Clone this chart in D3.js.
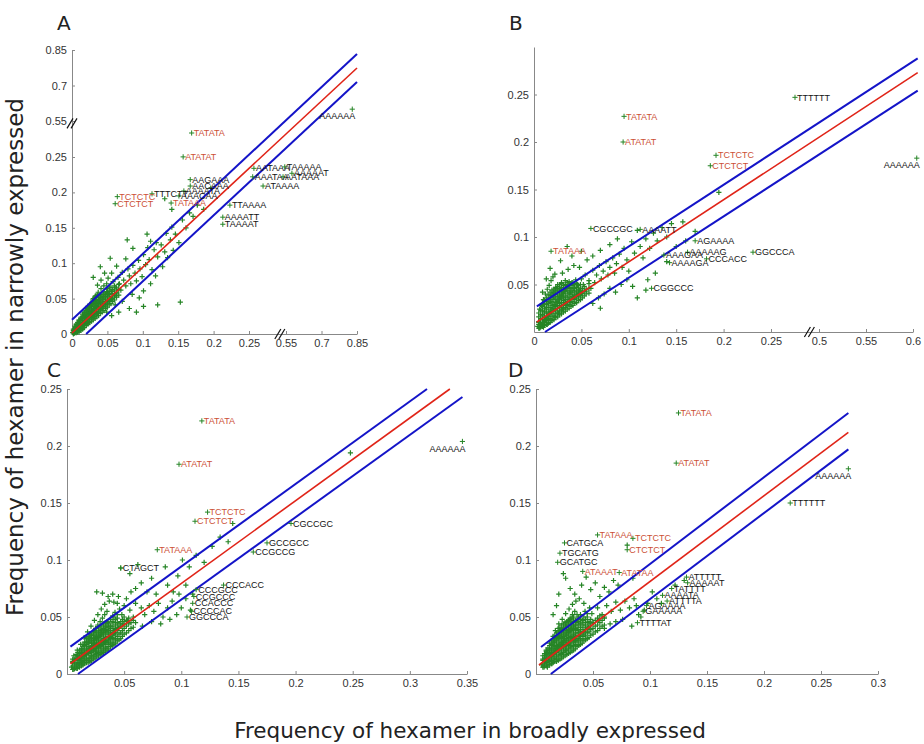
<!DOCTYPE html>
<html><head><meta charset="utf-8">
<script src="https://cdn.jsdelivr.net/npm/d3@7"></script>
<style>body{margin:0;background:#fff}svg{display:block}</style>
</head><body><svg id="c" width="924" height="744"></svg>
<script>
// ---------------- DATA ----------------
// Panel A
const ticksAx = [0,0.05,0.1,0.15,0.2,0.25,0.55,0.7,0.85];
const ticksAy = [0,0.05,0.1,0.15,0.2,0.25,0.55,0.7,0.85];
// dense core, one entry per x column: [x, [y values]]
const coreA = [[0.002,[0.000,0.004,0.007]],[0.006,[0.002,0.005,0.010,0.014]],[0.010,[0.003,0.008,0.012,0.017,0.020]],[0.015,[0.007,0.012,0.016,0.021,0.024,0.028]],[0.020,[0.012,0.015,0.020,0.025,0.028,0.033,0.036]],[0.025,[0.016,0.021,0.024,0.029,0.032,0.037,0.041]],[0.030,[0.020,0.025,0.028,0.033,0.036,0.041,0.045,0.050]],[0.035,[0.024,0.029,0.032,0.037,0.040,0.045,0.049,0.054]],[0.040,[0.029,0.034,0.037,0.042,0.045,0.051,0.056]],[0.045,[0.033,0.039,0.043,0.049,0.053,0.058]],[0.050,[0.038,0.044,0.048,0.054,0.058,0.064]],[0.055,[0.043,0.049,0.053,0.060,0.066]],[0.060,[0.048,0.055,0.061,0.068]],[0.066,[0.055,0.063,0.070]],
[0.004,[0.002,0.006,0.011]],[0.008,[0.003,0.007,0.012,0.016]],[0.0125,[0.005,0.010,0.014,0.019,0.022]],[0.0175,[0.009,0.014,0.018,0.023,0.026,0.031]],[0.0225,[0.014,0.018,0.022,0.027,0.030,0.035,0.039]],[0.0275,[0.018,0.023,0.026,0.031,0.034,0.039,0.043]],[0.0325,[0.022,0.027,0.030,0.035,0.038,0.043,0.047,0.052]],[0.0375,[0.026,0.031,0.035,0.039,0.043,0.047,0.052]],[0.0425,[0.031,0.036,0.040,0.045,0.048,0.054]],[0.0475,[0.036,0.041,0.046,0.051,0.056]],[0.0525,[0.041,0.046,0.051,0.056,0.061]],[0.0575,[0.046,0.051,0.057,0.063]],[0.063,[0.052,0.058,0.065]]];
const cloudA = [[0.001,0.002],[0.003,0.001],[0.002,0.005],[0.005,0.003],[0.004,0.008],[0.007,0.005],[0.006,0.010],[0.009,0.007],[0.008,0.013],[0.011,0.009],[0.010,0.016],[0.013,0.011],[0.012,0.019],[0.015,0.014],[0.014,0.022],[0.017,0.016],[0.016,0.025],[0.019,0.019],[0.018,0.028],[0.021,0.022],[0.020,0.031],[0.023,0.025],[0.022,0.034],[0.025,0.027],[0.024,0.037],[0.027,0.030],[0.026,0.040],[0.029,0.033],[0.028,0.043],[0.031,0.036],[0.030,0.046],[0.033,0.039],[0.032,0.049],[0.035,0.042],[0.034,0.052],[0.037,0.045],[0.036,0.055],[0.039,0.048],[0.041,0.052],[0.043,0.049],[0.045,0.056],[0.047,0.053],[0.049,0.060],[0.051,0.057],
[0.008,0.003],[0.012,0.006],[0.016,0.009],[0.020,0.013],[0.024,0.017],[0.028,0.021],[0.032,0.025],[0.036,0.029],[0.040,0.034],[0.044,0.038],[0.048,0.042],[0.053,0.047],[0.057,0.050],[0.061,0.054],
[0.006,0.013],[0.010,0.019],[0.013,0.024],[0.017,0.030],[0.021,0.036],[0.025,0.042],[0.029,0.048],[0.033,0.054],[0.037,0.059],[0.041,0.064],[0.045,0.068],[0.049,0.071],
[0.053,0.066],[0.056,0.060],[0.058,0.074],[0.061,0.066],[0.063,0.058],[0.065,0.080],[0.067,0.071],[0.069,0.062],[0.071,0.087],[0.073,0.076],[0.076,0.068],[0.079,0.092],[0.081,0.082],[0.083,0.071],[0.086,0.097],[0.089,0.086],[0.091,0.075],[0.094,0.104],[0.096,0.092],[0.099,0.081],[0.101,0.112],[0.104,0.098],[0.107,0.122],[0.109,0.105],[0.113,0.091],[0.116,0.119],[0.119,0.129],[0.121,0.109],[0.126,0.126],[0.131,0.116],[0.133,0.142],[0.139,0.133],[0.141,0.151],[0.146,0.141],[0.151,0.129],[0.156,0.161],[0.161,0.150],[0.166,0.171],[0.171,0.166],[0.177,0.182],[0.186,0.176],[0.196,0.206],[0.141,0.176],[0.131,0.191],[0.106,0.141],[0.111,0.131],[0.086,0.121],[0.076,0.106],[0.063,0.096],[0.056,0.086],[0.051,0.079],[0.041,0.076],[0.036,0.069],[0.040,0.095],[0.030,0.080],[0.046,0.086],[0.078,0.133],[0.054,0.107],
[0.153,0.045],[0.121,0.041],[0.101,0.039],[0.091,0.031],[0.081,0.036],[0.071,0.046],[0.066,0.031],[0.061,0.041],[0.056,0.026],[0.049,0.031],[0.101,0.061],[0.111,0.071],[0.095,0.051],[0.085,0.056],[0.118,0.082],[0.128,0.095],[0.135,0.108],[0.143,0.118]];
const hiA = [["TATATA",0.169,0.45],["ATATAT",0.157,0.251],["TCTCTC",0.064,0.194],["CTCTCT",0.061,0.184],["TATAAA",0.140,0.185]];
const loA = [["AAAAAA",0.83,0.6],["TTTCTT",0.113,0.198],["AAGAAA",0.167,0.218],["AACAAA",0.167,0.209],["AAAATA",0.158,0.202],["AAACAA",0.151,0.195],["TTAAAA",0.223,0.182],["AAAATT",0.213,0.165],["TAAAAT",0.213,0.155],["AATAAA",0.29,0.234],["TAAAAA",0.54,0.236],["AAAAAT",0.575,0.227],["AAATAA",0.28,0.222],["AATAAA",0.526,0.222],["ATAAAA",0.364,0.209]];
const fitA = [[0,0.0014],[0.85,0.774]];
const upA = [[0,0.02],[0.85,0.833]];
const dnA = [[0.02,0],[0.85,0.715]];

// Panel B
const ticksBx = [0,0.05,0.1,0.15,0.2,0.25,0.5,0.55,0.6];
const ticksBy = [0.05,0.1,0.15,0.2,0.25];
const coreB = [[0.005,[0.004,0.008,0.011,0.016,0.020]],[0.009,[0.006,0.010,0.013,0.018,0.022,0.027,0.030]],[0.013,[0.008,0.012,0.015,0.020,0.024,0.029,0.032,0.036]],[0.017,[0.010,0.014,0.019,0.022,0.026,0.031,0.034,0.038,0.042]],[0.021,[0.013,0.017,0.022,0.025,0.029,0.034,0.037,0.041,0.045]],[0.025,[0.016,0.020,0.025,0.028,0.032,0.037,0.040,0.044,0.048]],[0.029,[0.019,0.023,0.028,0.031,0.035,0.040,0.043,0.047,0.051]],[0.033,[0.022,0.026,0.031,0.034,0.038,0.043,0.046,0.050]],[0.037,[0.025,0.029,0.034,0.037,0.041,0.046,0.049,0.053]],[0.041,[0.028,0.032,0.037,0.040,0.044,0.049,0.052]],[0.045,[0.031,0.035,0.040,0.043,0.047,0.051]],[0.049,[0.034,0.038,0.043,0.046,0.050]],[0.053,[0.038,0.043,0.048]],[0.058,[0.041,0.046,0.051]],
[0.007,[0.005,0.009,0.014,0.018,0.023]],[0.011,[0.007,0.011,0.016,0.020,0.025,0.029,0.033]],[0.015,[0.009,0.013,0.017,0.021,0.026,0.030,0.034,0.039]],[0.019,[0.012,0.016,0.020,0.024,0.028,0.032,0.036,0.040,0.044]],[0.023,[0.015,0.019,0.023,0.027,0.031,0.035,0.039,0.043,0.047]],[0.027,[0.018,0.022,0.026,0.030,0.034,0.038,0.042,0.046,0.050]],[0.031,[0.021,0.025,0.029,0.033,0.037,0.041,0.045,0.049]],[0.035,[0.024,0.028,0.032,0.036,0.040,0.044,0.048,0.052]],[0.039,[0.027,0.031,0.035,0.039,0.043,0.047,0.051]],[0.043,[0.030,0.034,0.038,0.042,0.046,0.050]],[0.047,[0.033,0.037,0.041,0.045,0.049]],[0.051,[0.036,0.041,0.046]],[0.055,[0.040,0.045]]];
const cloudB = [[0.004,0.006],[0.006,0.004],[0.005,0.010],[0.008,0.007],[0.007,0.014],[0.010,0.010],[0.009,0.018],[0.012,0.013],[0.011,0.022],[0.014,0.016],[0.013,0.026],[0.016,0.019],[0.015,0.030],[0.018,0.022],[0.017,0.034],[0.020,0.025],[0.019,0.038],[0.022,0.028],[0.021,0.042],[0.024,0.031],[0.023,0.046],[0.026,0.034],[0.025,0.050],[0.028,0.037],[0.027,0.045],[0.030,0.040],[0.029,0.052],[0.032,0.043],[0.031,0.036],[0.034,0.046],[0.033,0.054],[0.036,0.049],[0.038,0.042],[0.040,0.052],[0.042,0.046],[0.044,0.055],[0.046,0.050],[0.048,0.044],[0.050,0.056],[0.052,0.050],
[0.006,0.024],[0.008,0.028],[0.010,0.034],[0.012,0.040],[0.014,0.045],[0.016,0.049],[0.018,0.054],[0.020,0.058],[0.022,0.061],[0.017,0.067],[0.013,0.056],[0.009,0.042],
[0.010,0.005],[0.014,0.008],[0.018,0.012],[0.022,0.016],[0.026,0.020],[0.030,0.024],[0.034,0.028],[0.038,0.032],[0.042,0.036],[0.046,0.039],[0.050,0.041],[0.055,0.043],[0.060,0.046],
[0.054,0.060],[0.058,0.054],[0.062,0.065],[0.064,0.052],[0.066,0.060],[0.069,0.070],[0.071,0.056],[0.073,0.064],[0.076,0.074],[0.078,0.060],[0.080,0.068],[0.083,0.078],[0.085,0.062],[0.087,0.072],[0.090,0.082],[0.093,0.068],[0.095,0.088],[0.098,0.076],[0.100,0.064],[0.103,0.095],[0.106,0.083],[0.109,0.107],[0.112,0.090],[0.115,0.078],[0.118,0.098],[0.122,0.088],[0.126,0.104],[0.130,0.096],[0.135,0.110],[0.140,0.100],[0.145,0.114],[0.157,0.116],[0.170,0.106],[0.195,0.147],[0.150,0.090],[0.160,0.096],
[0.030,0.062],[0.036,0.066],[0.042,0.070],[0.048,0.068],[0.056,0.076],[0.062,0.080],[0.070,0.086],[0.080,0.092],[0.088,0.098],[0.028,0.075],[0.040,0.080],[0.050,0.085],[0.035,0.090],
[0.109,0.036],[0.062,0.030],[0.068,0.036],[0.074,0.040],[0.080,0.046],[0.086,0.042],[0.092,0.050],[0.098,0.055],[0.104,0.048],[0.070,0.025],[0.120,0.055],[0.128,0.062],[0.118,0.044],[0.140,0.074]];
const hiB = [["TATATA",0.095,0.227],["ATATAT",0.094,0.200],["TCTCTC",0.192,0.186],["CTCTCT",0.186,0.175],["TATAAA",0.018,0.085]];
const loB = [["TTTTTT",0.375,0.247],["AAAAAA",0.604,0.183],["CGCCGC",0.060,0.109],["AAAATT",0.112,0.108],["AGAAAA",0.170,0.096],["AAAAAG",0.162,0.084],["AAAGAA",0.137,0.081],["AAAAGA",0.143,0.073],["CCCACC",0.182,0.077],["GGCCCA",0.231,0.084],["CGGCCC",0.124,0.046]];
const fitB = [[0.003,0.0105],[0.605,0.273]];
const upB = [[0.003,0.027],[0.605,0.288]];
const dnB = [[0.0116,0],[0.605,0.254]];

// Panel C
const ticksCx = [0.05,0.1,0.15,0.2,0.25,0.3,0.35];
const ticksCy = [0,0.05,0.1,0.15,0.2,0.25];
const coreC = [[0.005,[0.004,0.007,0.011,0.013]],[0.008,[0.005,0.008,0.012,0.014,0.017]],[0.011,[0.006,0.009,0.013,0.015,0.018,0.021]],[0.014,[0.008,0.011,0.015,0.017,0.020,0.024,0.026]],[0.017,[0.010,0.013,0.017,0.019,0.022,0.026,0.028,0.031]],[0.020,[0.011,0.014,0.018,0.020,0.023,0.027,0.029,0.032,0.035]],[0.023,[0.013,0.016,0.020,0.022,0.025,0.029,0.031,0.034,0.037]],[0.026,[0.015,0.018,0.022,0.024,0.027,0.031,0.033,0.036,0.040]],[0.029,[0.017,0.020,0.024,0.026,0.029,0.033,0.035,0.038,0.042]],[0.032,[0.019,0.022,0.026,0.028,0.031,0.035,0.037,0.040,0.044]],[0.035,[0.021,0.024,0.028,0.030,0.033,0.037,0.039,0.042,0.046]],[0.038,[0.024,0.027,0.031,0.033,0.036,0.040,0.042,0.048]],[0.041,[0.026,0.030,0.034,0.036,0.040,0.045,0.050]],[0.044,[0.029,0.033,0.038,0.041,0.045,0.052]],[0.047,[0.031,0.036,0.042,0.046]],[0.050,[0.035,0.040,0.046,0.050]],[0.054,[0.038,0.044,0.049]],[0.058,[0.041,0.047]],
[0.0065,[0.005,0.009,0.012]],[0.0095,[0.006,0.010,0.013,0.016,0.019]],[0.0125,[0.007,0.010,0.014,0.016,0.019,0.022]],[0.0155,[0.009,0.012,0.016,0.018,0.021,0.025,0.028]],[0.0185,[0.010,0.014,0.018,0.021,0.024,0.027,0.030,0.033]],[0.0215,[0.012,0.015,0.019,0.021,0.024,0.028,0.031,0.034]],[0.0245,[0.014,0.017,0.021,0.023,0.026,0.030,0.032,0.035,0.038]],[0.0275,[0.016,0.019,0.023,0.025,0.028,0.032,0.034,0.037,0.041]],[0.0305,[0.018,0.021,0.025,0.027,0.030,0.034,0.036,0.039,0.043]],[0.0335,[0.020,0.023,0.027,0.029,0.032,0.036,0.038,0.041,0.045]],[0.0365,[0.022,0.026,0.029,0.032,0.035,0.038,0.041,0.044]],[0.0395,[0.025,0.028,0.032,0.035,0.038,0.042,0.046]],[0.0425,[0.027,0.031,0.036,0.039,0.043,0.048]],[0.0455,[0.030,0.035,0.040,0.044]],[0.0485,[0.033,0.038,0.043,0.048]],[0.052,[0.036,0.042,0.047]],[0.056,[0.040,0.045]]];
const cloudC = [[0.004,0.006],[0.006,0.004],[0.005,0.010],[0.008,0.007],[0.007,0.013],[0.010,0.009],[0.009,0.016],[0.012,0.012],[0.011,0.019],[0.014,0.014],[0.013,0.022],[0.016,0.017],[0.015,0.025],[0.018,0.019],[0.017,0.028],[0.020,0.022],[0.019,0.031],[0.022,0.025],[0.021,0.034],[0.024,0.027],[0.023,0.037],[0.026,0.030],[0.025,0.040],[0.028,0.033],[0.027,0.043],[0.030,0.036],[0.029,0.046],[0.032,0.039],[0.031,0.049],[0.034,0.042],[0.033,0.052],[0.036,0.045],[0.035,0.055],[0.038,0.048],[0.040,0.051],[0.042,0.054],[0.044,0.049],[0.046,0.057],[0.048,0.052],[0.050,0.060],
[0.009,0.005],[0.013,0.008],[0.017,0.012],[0.021,0.016],[0.025,0.020],[0.029,0.024],[0.033,0.028],[0.037,0.032],[0.041,0.036],[0.045,0.040],[0.049,0.044],[0.053,0.047],[0.058,0.050],
[0.006,0.016],[0.009,0.021],[0.012,0.026],[0.015,0.032],[0.018,0.037],[0.021,0.042],[0.024,0.047],[0.027,0.052],[0.030,0.057],[0.033,0.061],[0.037,0.064],[0.041,0.063],
[0.026,0.072],[0.031,0.071],[0.040,0.070],[0.045,0.068],[0.047,0.093],[0.055,0.088],[0.060,0.075],[0.062,0.096],[0.065,0.080],[0.070,0.072],[0.074,0.084],[0.078,0.070],[0.086,0.094],[0.088,0.078],[0.093,0.072],[0.097,0.086],[0.101,0.100],[0.107,0.094],[0.113,0.104],[0.120,0.098],[0.127,0.112],[0.134,0.120],[0.141,0.116],[0.145,0.132],[0.248,0.194],
[0.055,0.056],[0.060,0.062],[0.065,0.058],[0.068,0.052],[0.072,0.060],[0.076,0.055],[0.080,0.062],[0.084,0.050],[0.088,0.058],[0.092,0.064],[0.096,0.052],[0.100,0.058],[0.104,0.066],[0.108,0.056],[0.060,0.045],[0.066,0.042],[0.074,0.046],[0.082,0.044],[0.090,0.048],[0.098,0.070],[0.104,0.078],[0.110,0.070],
[0.036,0.068],[0.044,0.062],[0.052,0.066],[0.056,0.072]];
const hiC = [["TATATA",0.118,0.222],["ATATAT",0.098,0.184],["TCTCTC",0.123,0.142],["CTCTCT",0.112,0.134],["TATAAA",0.079,0.109]];
const loC = [["CTAGCT",0.047,0.093],["AAAAAA",0.346,0.204],["CGCCGC",0.196,0.132],["GCCGCC",0.175,0.115],["CCGCCG",0.163,0.107],["CCCACC",0.137,0.078],["CCCGCC",0.113,0.074],["CCGCCC",0.111,0.068],["CCACCC",0.110,0.062],["CCCCAC",0.109,0.055],["GGCCCA",0.105,0.050]];
const fitC = [[0.003,0.009],[0.335,0.25]];
const upC = [[0.003,0.024],[0.315,0.25]];
const dnC = [[0.0096,0],[0.346,0.243]];

// Panel D
const ticksDx = [0.05,0.1,0.15,0.2,0.25,0.3];
const ticksDy = [0,0.05,0.1,0.15,0.2,0.25];
const coreD = [[0.006,[0.006,0.009,0.013,0.016]],[0.009,[0.007,0.010,0.014,0.017,0.020]],[0.012,[0.008,0.011,0.015,0.018,0.021,0.025]],[0.015,[0.010,0.013,0.017,0.020,0.023,0.027,0.030]],[0.018,[0.011,0.015,0.019,0.022,0.025,0.029,0.032,0.036]],[0.021,[0.013,0.017,0.021,0.024,0.027,0.031,0.034,0.038,0.041]],[0.024,[0.015,0.019,0.023,0.026,0.029,0.033,0.036,0.040,0.044]],[0.027,[0.017,0.021,0.025,0.028,0.031,0.035,0.038,0.042,0.046]],[0.030,[0.019,0.023,0.027,0.030,0.033,0.037,0.040,0.044,0.048]],[0.033,[0.021,0.025,0.029,0.032,0.035,0.039,0.042,0.046,0.050]],[0.036,[0.024,0.028,0.031,0.034,0.038,0.041,0.045,0.052]],[0.039,[0.026,0.030,0.034,0.037,0.041,0.044,0.048]],[0.042,[0.029,0.033,0.037,0.041,0.045,0.050]],[0.045,[0.031,0.036,0.040,0.045,0.053]],[0.048,[0.034,0.039,0.044,0.048]],[0.052,[0.037,0.042,0.047]],[0.056,[0.040,0.045,0.051]],[0.060,[0.043,0.049]],
[0.0075,[0.007,0.011,0.014,0.018]],[0.0105,[0.008,0.012,0.016,0.019,0.023]],[0.0135,[0.009,0.012,0.016,0.019,0.022,0.026,0.029]],[0.0165,[0.011,0.014,0.018,0.021,0.024,0.028,0.031,0.034]],[0.0195,[0.012,0.016,0.020,0.023,0.026,0.030,0.033,0.037,0.040]],[0.0225,[0.014,0.018,0.022,0.025,0.028,0.032,0.035,0.039,0.043]],[0.0255,[0.016,0.020,0.024,0.027,0.030,0.034,0.037,0.041,0.045]],[0.0285,[0.018,0.022,0.026,0.029,0.032,0.036,0.039,0.043,0.047]],[0.0315,[0.020,0.024,0.028,0.031,0.034,0.038,0.041,0.045,0.049]],[0.0345,[0.022,0.026,0.030,0.033,0.036,0.040,0.043,0.047]],[0.0375,[0.025,0.029,0.033,0.036,0.039,0.043,0.046,0.050]],[0.0405,[0.027,0.031,0.035,0.039,0.043,0.047]],[0.0435,[0.030,0.034,0.039,0.043,0.048]],[0.0465,[0.032,0.037,0.042,0.046]],[0.050,[0.035,0.040,0.045]],[0.054,[0.038,0.043,0.049]],[0.058,[0.042,0.047]]];
const cloudD = [[0.005,0.008],[0.007,0.006],[0.006,0.012],[0.009,0.009],[0.008,0.016],[0.011,0.012],[0.010,0.019],[0.013,0.015],[0.012,0.022],[0.015,0.017],[0.014,0.025],[0.017,0.020],[0.016,0.028],[0.019,0.023],[0.018,0.031],[0.021,0.026],[0.020,0.034],[0.023,0.028],[0.022,0.037],[0.025,0.031],[0.024,0.040],[0.027,0.034],[0.026,0.043],[0.029,0.037],[0.028,0.046],[0.031,0.040],[0.030,0.049],[0.033,0.043],[0.032,0.052],[0.035,0.046],[0.034,0.055],[0.037,0.049],[0.039,0.052],[0.041,0.047],[0.043,0.055],[0.045,0.050],[0.047,0.058],[0.049,0.053],
[0.010,0.006],[0.014,0.009],[0.018,0.013],[0.022,0.017],[0.026,0.021],[0.030,0.025],[0.034,0.029],[0.038,0.033],[0.042,0.037],[0.046,0.041],[0.050,0.045],[0.055,0.047],[0.060,0.050],
[0.009,0.021],[0.012,0.027],[0.015,0.033],[0.017,0.038],[0.020,0.044],[0.023,0.048],[0.026,0.053],[0.029,0.057],[0.032,0.061],[0.035,0.064],[0.038,0.066],[0.042,0.062],
[0.020,0.070],[0.024,0.088],[0.026,0.084],[0.030,0.075],[0.034,0.070],[0.044,0.085],[0.040,0.078],[0.048,0.074],[0.052,0.080],[0.056,0.068],[0.060,0.076],[0.064,0.072],[0.068,0.082],[0.072,0.078],[0.080,0.113],[0.085,0.084],[0.018,0.060],[0.015,0.052],
[0.054,0.058],[0.058,0.052],[0.062,0.060],[0.066,0.055],[0.070,0.063],[0.074,0.056],[0.078,0.064],[0.082,0.058],[0.086,0.066],[0.090,0.052],[0.092,0.050],[0.095,0.056],[0.098,0.062],[0.102,0.072],[0.106,0.066],[0.060,0.040],[0.065,0.044],[0.070,0.046],[0.076,0.048],[0.084,0.042],[0.088,0.060],[0.130,0.082],[0.122,0.078],[0.110,0.062]];
const hiD = [["TATATA",0.125,0.229],["ATATAT",0.123,0.185],["TATAAA",0.054,0.122],["TCTCTC",0.085,0.119],["CTCTCT",0.080,0.109],["ATAAAT",0.041,0.090],["ATATAA",0.073,0.089]];
const loD = [["AAAAAA",0.274,0.180],["TTTTTT",0.223,0.150],["CATGCA",0.025,0.115],["TGCATG",0.021,0.106],["GCATGC",0.019,0.098],["ATTTTT",0.132,0.085],["AAAAAT",0.133,0.080],["TATTTT",0.119,0.075],["AAAATA",0.111,0.069],["ATTTTA",0.115,0.064],["AGAAAA",0.097,0.060],["GAAAAA",0.094,0.055],["TTTTAT",0.089,0.045]];
const fitD = [[0.0026,0.0079],[0.274,0.212]];
const upD = [[0.0044,0.0237],[0.274,0.229]];
const dnD = [[0.013,0],[0.274,0.197]];

const xTitle = "Frequency of hexamer in broadly expressed";
const yTitle = "Frequency of hexamer in narrowly expressed";

// ---------------- DRAWING ----------------
const svg = d3.select("#c");
const GREEN = "#268526", BLUE = "#1414c8", RED = "#e02418", LRED = "#cc5036";
const fmt = d => d === 0 ? "0" : String(+d.toFixed(2));
const expand = core => core.flatMap(c => c[1].map(v => [c[0], v]));

const panels = [
  {name:"A", xDom:[0,0.25,0.55,0.85], xR:[72,249,286,357], yDom:[0,0.25,0.55,0.85], yR:[334,157,121,50],
   xt:ticksAx, yt:ticksAy, core:coreA, cloud:cloudA, hi:hiA, lo:loA, fit:fitA, up:upA, dn:dnA, xBreak:0.5, yBreak:0.53, lab:[57,30]},
  {name:"B", xDom:[0,0.25,0.5,0.6], xR:[534,771,819,913], yDom:[0,0.3], yR:[332,47],
   xt:ticksBx, yt:ticksBy, core:coreB, cloud:cloudB, hi:hiB, lo:loB, fit:fitB, up:upB, dn:dnB, xBreak:0.45, lab:[509,30]},
  {name:"C", xDom:[0,0.35], xR:[67,467], yDom:[0,0.25], yR:[674,389],
   xt:ticksCx, yt:ticksCy, core:coreC, cloud:cloudC, hi:hiC, lo:loC, fit:fitC, up:upC, dn:dnC, lab:[47,377]},
  {name:"D", xDom:[0,0.3], xR:[536,878], yDom:[0,0.25], yR:[674,389],
   xt:ticksDx, yt:ticksDy, core:coreD, cloud:cloudD, hi:hiD, lo:loD, fit:fitD, up:upD, dn:dnD, lab:[508,377]}
];

const plus = "M-2.6,0H2.6M0,-2.6V2.6";

panels.forEach(p => {
  const x = d3.scaleLinear().domain(p.xDom).range(p.xR);
  const y = d3.scaleLinear().domain(p.yDom).range(p.yR);
  const g = svg.append("g");
  const x0 = p.xR[0], y0 = p.yR[0];

  const ax = g.append("g").attr("transform",`translate(0,${y0})`)
    .call(d3.axisBottom(x).tickValues(p.xt).tickFormat(fmt).tickSizeInner(-3).tickSizeOuter(0).tickPadding(5));
  const ay = g.append("g").attr("transform",`translate(${x0},0)`)
    .call(d3.axisLeft(y).tickValues(p.yt).tickFormat(fmt).tickSizeInner(-3).tickSizeOuter(0).tickPadding(5));
  [ax,ay].forEach(a => {
    a.selectAll("path,line").attr("stroke","#888");
    a.selectAll("text").attr("fill","#333").style("font-family","'Liberation Sans',Arial,sans-serif").style("font-size","11px");
  });

  // cloud
  const pts = expand(p.core).concat(p.cloud);
  g.append("g").selectAll("path").data(pts).join("path")
    .attr("d", plus).attr("transform", d => `translate(${x(d[0])},${y(d[1])})`)
    .attr("stroke", GREEN).attr("stroke-width", 1.2).attr("fill","none");

  // lines
  const line = d3.line().x(d => x(d[0])).y(d => y(d[1]));
  g.append("path").attr("d", line(p.up)).attr("stroke", BLUE).attr("stroke-width", 2).attr("fill","none");
  g.append("path").attr("d", line(p.dn)).attr("stroke", BLUE).attr("stroke-width", 2).attr("fill","none");
  g.append("path").attr("d", line(p.fit)).attr("stroke", RED).attr("stroke-width", 1.6).attr("fill","none");

  // labelled points
  const xMax = p.xR[p.xR.length-1];
  const edge = d => x(d[1]) + 38 > xMax + 6;
  const drawLabels = (arr, col) => {
    const lg = g.append("g");
    lg.selectAll("path").data(arr).join("path")
      .attr("d", plus).attr("transform", d => `translate(${x(d[1])},${y(d[2])})`)
      .attr("stroke", GREEN).attr("stroke-width", 1).attr("fill","none");
    lg.selectAll("text").data(arr).join("text")
      .attr("x", d => edge(d) ? x(d[1]) + 3 : x(d[1]) + 2)
      .attr("y", d => edge(d) ? y(d[2]) + 7 : y(d[2]))
      .attr("dy", "0.35em")
      .attr("text-anchor", d => edge(d) ? "end" : "start")
      .attr("fill", col)
      .style("font-family","'Liberation Sans',Arial,sans-serif").style("font-size","9px")
      .text(d => d[0]);
  };
  drawLabels(p.lo, "#111");
  drawLabels(p.hi, LRED);

  // axis break marks
  const brk = (cx, cy) => {
    [-2, 2].forEach(o => g.append("line")
      .attr("x1", cx + o - 3).attr("y1", cy + 5).attr("x2", cx + o + 3).attr("y2", cy - 5)
      .attr("stroke", "#111").attr("stroke-width", 1.2));
  };
  if (p.xBreak !== undefined) brk(x(p.xBreak), y0);
  if (p.yBreak !== undefined) brk(x0, y(p.yBreak));

  svg.append("text").attr("x", p.lab[0]).attr("y", p.lab[1]).text(p.name)
    .attr("fill","#222").style("font-family","'DejaVu Sans',sans-serif").style("font-size","20px");
});

svg.append("text").attr("x", 470).attr("y", 738).attr("text-anchor","middle").text(xTitle)
  .attr("fill","#222").style("font-family","'DejaVu Sans',sans-serif").style("font-size","21.5px");
svg.append("text").attr("transform","translate(23,357) rotate(-90)").attr("text-anchor","middle").text(yTitle)
  .attr("fill","#222").style("font-family","'DejaVu Sans',sans-serif").style("font-size","23px");
</script>
</body></html>
